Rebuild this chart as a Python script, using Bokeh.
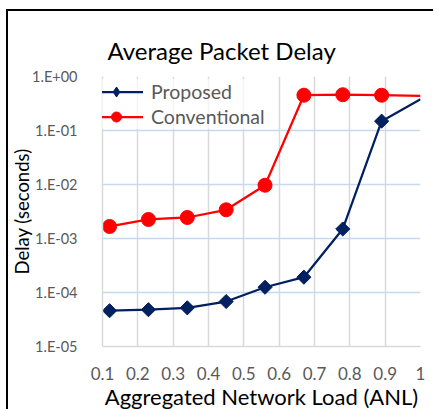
from math import pi

from bokeh.embed import file_html
from bokeh.layouts import column
from bokeh.models import FixedTicker, Legend, LegendItem
from bokeh.plotting import figure
from bokeh.resources import INLINE

# Aggregated network load (x) and average packet delay in seconds (y)
load = [0.12, 0.23, 0.34, 0.45, 0.56, 0.67, 0.78, 0.89, 1.0]
delay_proposed = [4.6e-5, 4.8e-5, 5.2e-5, 6.8e-5, 1.25e-4, 1.92e-4, 1.5e-3, 0.149, 0.38]
delay_conventional = [1.67e-3, 2.25e-3, 2.45e-3, 3.4e-3, 9.7e-3, 0.45, 0.46, 0.45, 0.44]

x_ticks = [0.1, 0.2, 0.3, 0.4, 0.5, 0.6, 0.7, 0.8, 0.9, 1.0]
x_tick_labels = ["0.1", "0.2", "0.3", "0.4", "0.5", "0.6", "0.7", "0.8", "0.9", "1"]
y_ticks = [1e-5, 1e-4, 1e-3, 1e-2, 1e-1, 1.0]
y_tick_labels = ["1.E-05", "1.E-04", "1.E-03", "1.E-02", "1.E-01", "1.E+00"]

FONT = "Lato"
NAVY = "#002060"
RED = "#FF0000"

p = figure(
    y_axis_type="log",
    x_range=(0.1, 1.0),
    y_range=(1e-5, 1.0),
    frame_width=318,
    frame_height=270,
    min_border_left=94,
    min_border_right=13,
    min_border_top=65,
    min_border_bottom=52,
    output_backend="svg",
    toolbar_location=None,
    title="Average Packet Delay",
)
p.outline_line_color = None
p.background_fill_color = "white"
p.border_fill_color = "white"

p.title.text_font = FONT
p.title.text_font_size = "24px"
p.title.text_font_style = "normal"
p.title.text_color = "#000000"
p.title.align = "left"
p.title.offset = 5
p.title.standoff = 24

# axes
p.xaxis.ticker = FixedTicker(ticks=x_ticks)
p.xaxis.major_label_overrides = dict(zip(x_ticks, x_tick_labels))
p.yaxis.ticker = FixedTicker(ticks=y_ticks)
p.yaxis.major_label_overrides = dict(zip(y_ticks, y_tick_labels))
for ax in (p.xaxis, p.yaxis):
    ax.major_tick_line_color = None
    ax.minor_tick_line_color = None
    ax.axis_line_color = "#D9D9D9"
    ax.axis_line_width = 1.5
    ax.major_label_text_font = FONT
    ax.major_label_text_color = "#595959"
    ax.axis_label_text_font = FONT
    ax.axis_label_text_font_style = "normal"
    ax.axis_label_text_color = "#000000"
p.xaxis.major_label_text_font_size = "17px"
p.yaxis.major_label_text_font_size = "14.5px"
p.xaxis.major_label_standoff = 14
p.yaxis.major_label_standoff = 19
p.xaxis.axis_label = "Aggregated Network Load (ANL)"
p.yaxis.axis_label = "Delay (seconds)"
p.xaxis.axis_label_text_font_size = "22px"
p.yaxis.axis_label_text_font_size = "18.5px"
p.xaxis.axis_label_standoff = 0
p.yaxis.axis_label_standoff = -4

p.xgrid.grid_line_color = "#D9D9D9"
p.xgrid.grid_line_width = 1.5
p.ygrid.grid_line_color = "#C5D9F1"
p.ygrid.grid_line_width = 1.5

# series: lines through every point, markers on the measured loads
l1 = p.line(load, delay_proposed, line_color=NAVY, line_width=2.25)
p.scatter(load[:-1], delay_proposed[:-1], marker="square", angle=pi / 4,
          size=10, fill_color=NAVY, line_color=NAVY)
l2 = p.line(load, delay_conventional, line_color=RED, line_width=2.25)
m2 = p.scatter(load[:-1], delay_conventional[:-1], marker="circle",
               size=14, fill_color=RED, line_color=RED)

# legend swatch for the diamond series (hidden in the plot area)
key1 = p.scatter(load[:1], delay_proposed[:1], marker="diamond",
                 size=14, fill_color=NAVY, line_color=NAVY, visible=False)

legend = Legend(
    items=[
        LegendItem(label="Proposed", renderers=[l1, key1]),
        LegendItem(label="Conventional", renderers=[l2, m2]),
    ],
    location=(-13, 217),
    orientation="vertical",
    glyph_width=54,
    glyph_height=25,
    label_height=20,
    label_width=20,
    spacing=0,
    padding=5,
    margin=0,
    label_standoff=8,
    label_text_font=FONT,
    label_text_font_size="19.5px",
    label_text_color="#595959",
    background_fill_color="white",
    background_fill_alpha=0.7,
    border_line_color=None,
    click_policy="none",
)
p.add_layout(legend)

layout = column(
    p,
    styles={
        "margin-left": "6px",
        "margin-top": "9px",
        "border-left": "2px solid #000",
        "border-top": "2px solid #000",
    },
)

open("out.html", "w").write(file_html(layout, INLINE))
